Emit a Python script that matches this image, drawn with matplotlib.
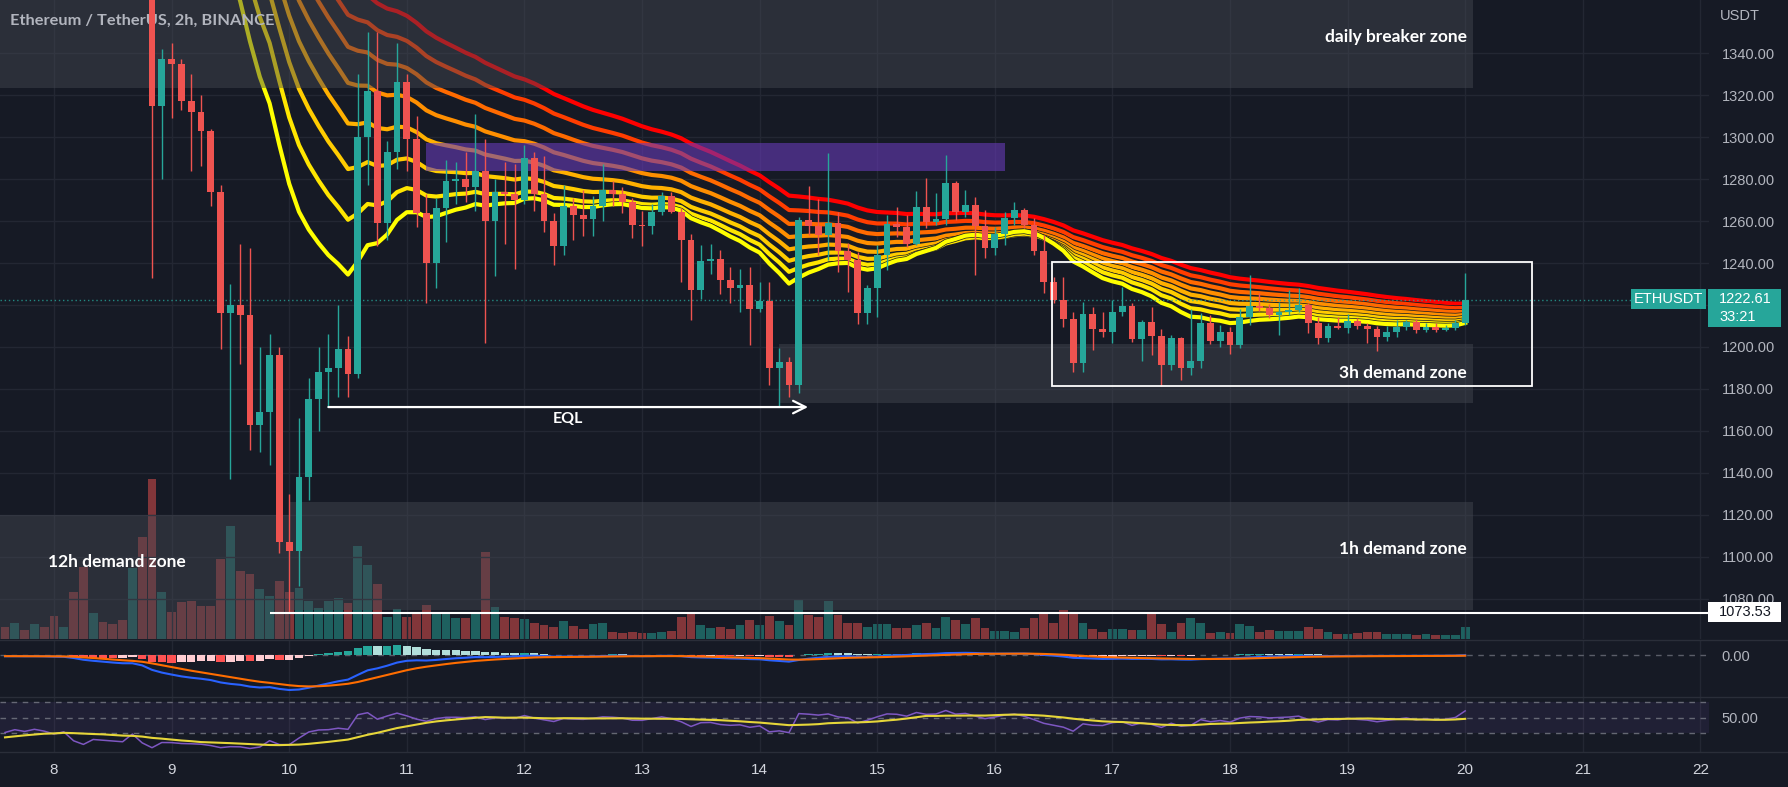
import numpy as np
import pandas as pd
import matplotlib
matplotlib.use("Agg")
import matplotlib.pyplot as plt
import matplotlib.patheffects as pe
from matplotlib.patches import Rectangle
from matplotlib.lines import Line2D

# ETH/USDT 2h candles, 7.583 -> 20.0 (x = day of month, bar open time)
warmup_close = [1590, 1584, 1589, 1582, 1587, 1580, 1585, 1578, 1583, 1576,
                1581, 1575, 1580, 1574, 1579, 1573, 1578, 1574, 1578]  # 6.0 .. 7.5, off screen
first_open = 1578

close = [1572, 1576, 1571, 1574, 1569, 1560, 1563, 1523, 1492, 1502, 1496, 1490, 1484, 1500, 1420,
         1315, 1337,
         1335, 1317, 1312, 1303, 1274, 1216, 1220, 1215, 1163, 1169, 1196, 1107,
         1103, 1138, 1175, 1188, 1190, 1199, 1187, 1300, 1322, 1259, 1293, 1326,
         1299, 1264, 1240, 1266, 1279, 1280, 1276, 1284, 1260, 1274, 1273, 1270,
         1290, 1273, 1260, 1248, 1267, 1263, 1261, 1267, 1275, 1273, 1269, 1258,
         1257.5, 1264.5, 1272, 1264.5, 1251, 1227, 1241, 1242, 1232, 1228, 1229.5, 1218,
         1222, 1190, 1193, 1182, 1260.5, 1257.6, 1253.3, 1259.2, 1245.9, 1241.5, 1216.4, 1227.9,
         1243.8, 1258.6, 1257, 1249.1, 1266.8, 1259.5, 1261, 1277.9, 1264.4, 1267.6, 1257.6, 1247.3,
         1253.6, 1261.3, 1265.2, 1258, 1245.9, 1231.1, 1222.6, 1213.5, 1192.2, 1215.6, 1208.6, 1207.3,
         1216.5, 1219.5, 1204, 1211.9, 1205, 1191.4, 1204.1, 1190.2, 1193.2, 1211.6, 1203, 1207.1,
         1200.9, 1214.1, 1219.5, 1218.4, 1215.2, 1216.5, 1217.6, 1220.2, 1211.3, 1204.1, 1210, 1209.2,
         1212.5, 1210.2, 1208.6, 1204.9, 1207.3, 1209.4, 1211.7, 1208.1, 1209.7, 1208.1, 1208.9, 1211.6,
         1222.61]

high = [1582, 1580, 1579, 1578, 1577, 1572, 1568, 1565, 1527, 1507, 1505, 1500, 1494, 1517, 1506,
        1425, 1342,
        1345, 1337, 1330, 1320, 1304, 1277, 1230, 1249, 1247, 1200, 1206, 1200,
        1130, 1166, 1185, 1200, 1206, 1220, 1205, 1330, 1350, 1350, 1298, 1345,
        1330, 1310, 1273, 1271, 1289, 1288, 1293, 1311, 1299, 1280, 1288, 1287,
        1296, 1293, 1291, 1264, 1277, 1271, 1275, 1272, 1287, 1279, 1276, 1271,
        1265, 1268, 1274, 1274, 1266, 1254, 1248.5, 1249, 1246, 1238, 1237, 1238,
        1231, 1231, 1199.5, 1195, 1262, 1276.6, 1270.3, 1292.2, 1264.4, 1249.4, 1245.4, 1229.5,
        1248.6, 1262.9, 1266.8, 1262.9, 1274.4, 1280.3, 1273.2, 1291.4, 1279, 1274.8, 1271.6, 1265.2,
        1257.3, 1264.4, 1269.2, 1266, 1261.3, 1253.3, 1233.5, 1233.5, 1216.8, 1221.6, 1219.2, 1216.8,
        1222.4, 1228.7, 1220.8, 1212.9, 1218.9, 1208.4, 1205.7, 1204.9, 1217.9, 1216.4, 1215.2, 1210.5,
        1209.7, 1217.9, 1234.3, 1225.6, 1220.5, 1221.6, 1227.1, 1227.9, 1220.8, 1214.4, 1211.6, 1214.4,
        1215.7, 1213.6, 1211.3, 1210, 1210, 1212.9, 1212.9, 1213.2, 1211.6, 1211.6, 1210.5, 1212.9,
        1235.4]

low = [1568, 1569, 1567, 1568, 1565, 1556, 1555, 1515, 1480, 1487, 1490, 1484, 1477, 1480, 1405,
       1233, 1280,
       1309, 1313, 1284, 1286, 1267, 1199, 1137, 1192, 1151, 1150, 1144, 1102,
       1073.53, 1086, 1127, 1160, 1171.4, 1176, 1176, 1185, 1277, 1248, 1251, 1285,
       1284, 1257, 1221, 1228, 1250, 1268, 1269, 1265, 1202, 1234, 1249, 1237,
       1268, 1265, 1255, 1239, 1244, 1251, 1253, 1253, 1260, 1267, 1264, 1252,
       1248, 1254, 1263, 1264, 1231, 1213, 1223, 1235, 1225, 1221, 1216.5, 1201,
       1216.5, 1182, 1171.5, 1176, 1178, 1253.3, 1243.8, 1241.4, 1235.9, 1226.3, 1211, 1211,
       1214.1, 1236.7, 1252.5, 1247.8, 1248.6, 1256.5, 1258.1, 1258.1, 1260.5, 1262.1, 1234.3, 1242.2,
       1243.8, 1248.6, 1258.1, 1256.5, 1243.8, 1225.6, 1220.8, 1209.7, 1188.2, 1188.2, 1198.6, 1204.9,
       1201.7, 1214.8, 1202.5, 1193.5, 1196.2, 1181.4, 1189, 1184.3, 1186.7, 1189.8, 1201.4, 1199.8,
       1196.7, 1199.3, 1210.5, 1217.3, 1213.6, 1205.7, 1215.2, 1216.8, 1206.8, 1201.4, 1202.5, 1208.4,
       1206.5, 1208.4, 1201.7, 1198.1, 1203, 1204.9, 1208.1, 1206.8, 1207.3, 1207.3, 1207.8, 1208.1,
       1210.5]

volume = [12, 15.7, 9, 15, 11.7, 23, 12, 47, 72, 25.7, 17, 15, 19, 70.7, 102,
          160, 47,
          27, 37, 38, 33, 33, 80, 113, 68, 65, 50, 43, 58,
          47, 51, 38, 31, 38, 40.7, 35.7, 93, 74, 55, 22, 30,
          22, 27, 34, 25.7, 27, 20.7, 20.7, 25.7, 86.7, 31.7, 22, 20.7,
          20, 16, 14, 12, 18, 13, 10, 15, 16, 7, 6, 7,
          6, 6, 7, 8, 22, 25, 14, 11, 12, 10, 14, 19,
          14, 23, 18, 14, 39, 24, 22, 38, 24, 15.7, 15.7, 11.7,
          15, 15, 10.7, 10.7, 14, 16.3, 10.7, 22.3, 19, 15, 20.7, 10.7,
          8.3, 8.3, 7.3, 10.7, 20.7, 26.3, 15.7, 29, 27.3, 16.3, 9.7, 7.3,
          9.7, 9.7, 9, 9, 25, 15, 7.3, 15.7, 20.7, 15.7, 5.7, 7.3,
          5.7, 15, 13, 7.3, 9, 8.3, 8.3, 8.3, 11.7, 9.7, 6.7, 5,
          5, 5.7, 7.3, 6.7, 5, 5, 5, 4, 5, 4, 4, 4,
          12.3]

ribbon_periods = [55, 50, 45, 40, 35, 30, 25, 20]
ribbon_colors = ["#ff0000", "#ff3d00", "#ff6a00", "#ff8f00", "#ffb000", "#ffcc00", "#ffe600", "#ffff00"]

# drawn zones: (t_left, t_right, price_bottom, price_top)
breaker_zone = (6.5, 20.07, 1323.4, 1420)
purple_zone = (11.163, 16.087, 1283.8, 1297.1)
zone_3h = (14.164, 20.07, 1173.5, 1201.4)
zone_1h = (10.007, 20.07, 1074.8, 1126.2)
zone_12h = (6.5, 10.007, 1040, 1120.2)
range_box = (16.489, 20.57, 1181.6, 1240.6)
eql_level, eql_from, eql_to = 1171.4, 10.333, 14.412
low_level, low_from = 1073.53, 9.837
last_price = 1222.61

BG = "#161a25"
GRID = "#232733"
TXT = "#b2b5be"
UP = "#26a69a"
DOWN = "#ef5350"
ZONE = "#464953"

plt.rcParams["font.family"] = ["Liberation Sans", "DejaVu Sans"]

W, H = 1788, 787


def frame(x0, y0, x1, y1):
    return [x0 / W, 1 - y1 / H, (x1 - x0) / W, (y1 - y0) / H]


n_warm = len(warmup_close)
all_close = pd.Series(warmup_close + close, dtype=float)
t_all = 6.0 + np.arange(len(all_close)) / 12
t = t_all[n_warm:]
close_a = np.array(close)
open_a = np.array([first_open] + close[:-1])
high_a = np.array(high)
low_a = np.array(low)
up = close_a >= open_a

# indicators
ema = {p: all_close.ewm(span=p, adjust=False).mean().values[n_warm:] for p in ribbon_periods}
macd_full = all_close.ewm(span=12, adjust=False).mean() - all_close.ewm(span=26, adjust=False).mean()
signal_full = macd_full.ewm(span=9, adjust=False).mean()
hist_full = (macd_full - signal_full).values
macd = macd_full.values[n_warm:]
signal = signal_full.values[n_warm:]
hist = hist_full[n_warm:]
hist_prev = hist_full[n_warm - 1:-1]
diff = all_close.diff()
gain = diff.clip(lower=0).ewm(alpha=1 / 14, adjust=False).mean()
loss = (-diff.clip(upper=0)).ewm(alpha=1 / 14, adjust=False).mean()
rsi_full = 100 - 100 / (1 + gain / loss)
rsi = rsi_full.values[n_warm:]
rsi_ma = rsi_full.rolling(14, min_periods=1).mean().values[n_warm:]

t_left = 8 - 54 / 117.6
t_right = 8 + (1709 - 54) / 117.6

fig = plt.figure(figsize=(W / 100, H / 100), dpi=100, facecolor=BG)
ax = fig.add_axes(frame(0, 0, 1709, 639))
axv = ax.twinx()
ax.set_zorder(axv.get_zorder() + 1)
ax.patch.set_visible(False)
axv.set_facecolor(BG)
ax_m = fig.add_axes(frame(0, 640, 1709, 697), sharex=ax, facecolor=BG)
ax_r = fig.add_axes(frame(0, 697, 1709, 752), sharex=ax, facecolor=BG)

for a in (ax, axv, ax_m, ax_r):
    for s in a.spines.values():
        s.set_visible(False)
    a.tick_params(length=0, colors=TXT, labelsize=10.5)

days = np.arange(8, 23)
price_ticks = np.arange(1080, 1341, 20)
ax.set_xlim(t_left, t_right)
ax.set_ylim(1060.95, 1365.24)
ax.yaxis.tick_right()
ax.set_yticks(price_ticks)
# the 1220 label sits under the last-price tag
ax.set_yticklabels(["" if v == 1220 else f"{v:.2f}" for v in price_ticks])
ax.tick_params(axis="y", pad=9)
ax.set_xticks(days)
ax.tick_params(axis="x", labelbottom=False)
ax.grid(True, color=GRID, lw=1)
ax.set_axisbelow(True)
axv.set_yticks([])
axv.set_ylim(0, 639)

# volume
vcol = [(38 / 255, 166 / 255, 154 / 255, 0.5) if u else (239 / 255, 83 / 255, 80 / 255, 0.5) for u in up]
axv.bar(t, volume, width=0.074, color=vcol, linewidth=0)

# ribbon
for p, c in zip(ribbon_periods, ribbon_colors):
    ax.plot(t, ema[p], color=c, lw=3.0, zorder=2, solid_joinstyle="round",
            path_effects=[pe.Stroke(linewidth=4.0, foreground=BG), pe.Normal()])

# zones
for z in (breaker_zone, zone_3h, zone_1h, zone_12h):
    ax.add_patch(Rectangle((z[0], z[2]), z[1] - z[0], z[3] - z[2], color=ZONE, alpha=0.45, lw=0, zorder=3))
ax.add_patch(Rectangle((purple_zone[0], purple_zone[2]), purple_zone[1] - purple_zone[0],
                       purple_zone[3] - purple_zone[2], color="#673ab7", alpha=0.6, lw=0, zorder=3))

ax.axhline(last_price, color=UP, lw=1, ls=(0, (1, 2)), alpha=0.8, zorder=3.5)

# candles
ccol = np.where(up, UP, DOWN)
ax.vlines(t, low_a, high_a, colors=ccol, lw=1, zorder=4)
body_lo = np.minimum(open_a, close_a)
body_h = np.maximum(np.abs(close_a - open_a), 0.7)
ax.bar(t, body_h, bottom=body_lo, width=0.057, color=ccol, linewidth=0, zorder=4.5)

# drawings
rb = range_box
ax.add_patch(Rectangle((rb[0], rb[2]), rb[1] - rb[0], rb[3] - rb[2], fill=False, ec="white", lw=1.3, zorder=5))
ax.annotate("", xy=(eql_to, eql_level), xytext=(eql_from, eql_level), zorder=5,
            arrowprops=dict(arrowstyle="->,head_length=0.9,head_width=0.45", color="white", lw=1.6,
                            shrinkA=0, shrinkB=0))
ax.text(12.368, 1165.7, "EQL", color="white", fontsize=11.5, ha="center", va="center", zorder=6,
        family=["Lato", "DejaVu Sans"], fontweight="bold")
ax.hlines(low_level, low_from, t_right, color="white", lw=1.5, zorder=5)

lab = dict(color="white", fontsize=12.5, va="center", zorder=6, family=["Lato", "DejaVu Sans"], fontweight="bold")
ax.text(20.015, 1347.8, "daily breaker zone", ha="right", **lab)
ax.text(20.015, 1187.5, "3h demand zone", ha="right", **lab)
ax.text(20.015, 1103.7, "1h demand zone", ha="right", **lab)
ax.text(7.953, 1097.8, "12h demand zone", ha="left", **lab)

ax.text(10 / 1709, 1 - 20.7 / 639, "Ethereum / TetherUS, 2h, BINANCE", transform=ax.transAxes,
        color=TXT, fontsize=11.8, va="center", ha="left", family=["Lato", "DejaVu Sans"], fontweight="bold")
ax.text(1720 / 1709, 1 - 16.5 / 639, "USDT", transform=ax.transAxes, color=TXT, fontsize=10.5,
        va="center", ha="left", clip_on=False)

# right-scale labels
ytr = ax.get_yaxis_transform()
ax.add_patch(Rectangle((1631 / 1709, 1218.1), 75 / 1709, 1227.6 - 1218.1, transform=ytr, color=UP,
                       clip_on=False, zorder=7, lw=0))
ax.text(1668.5 / 1709, 1222.85, "ETHUSDT", transform=ytr, color="white", fontsize=10.5, ha="center",
        va="center", clip_on=False, zorder=8)
ax.add_patch(Rectangle((1708 / 1709, 1209.5), 73 / 1709, 1227.6 - 1209.5, transform=ytr, color=UP,
                       clip_on=False, zorder=7, lw=0))
ax.text(1719 / 1709, 1222.9, f"{last_price:.2f}", transform=ytr, color="white", fontsize=10.5,
        ha="left", va="center", clip_on=False, zorder=8)
ax.text(1719 / 1709, 1214.2, "33:21", transform=ytr, color="white", fontsize=10.5,
        ha="left", va="center", clip_on=False, zorder=8)
ax.add_patch(Rectangle((1708 / 1709, 1069.05), 73 / 1709, 1078.6 - 1069.05, transform=ytr, color="white",
                       clip_on=False, zorder=7, lw=0))
ax.text(1719 / 1709, 1073.8, f"{low_level:.2f}", transform=ytr, color="#131722", fontsize=10.5,
        ha="left", va="center", clip_on=False, zorder=8)

# MACD pane
hcol = []
for h, hp in zip(hist, hist_prev):
    if h >= 0:
        hcol.append("#26a69a" if h > hp else "#b2dfdb")
    else:
        hcol.append("#ffcdd2" if h > hp else "#ff5252")
ax_m.bar(t, hist, width=0.07, color=hcol, linewidth=0, zorder=2)
ax_m.plot(t, macd, color="#2962ff", lw=1.5, zorder=3)
ax_m.plot(t, signal, color="#ff6d00", lw=1.5, zorder=3)
ax_m.axhline(0, color="#787b86", lw=1, ls=(0, (4, 4)), alpha=0.7, zorder=1)
mn = min(macd.min(), signal.min(), hist.min())
ax_m.set_ylim(1.2 * mn, -0.43 * mn)
ax_m.yaxis.tick_right()
ax_m.set_yticks([0])
ax_m.set_yticklabels(["0.00"])
ax_m.tick_params(axis="y", pad=9)
ax_m.tick_params(axis="x", labelbottom=False)
ax_m.grid(True, axis="x", color=GRID, lw=1)
ax_m.set_axisbelow(True)

# RSI pane
ax_r.axhspan(30, 70, color="#7e57c2", alpha=0.1, lw=0)
for lvl in (70, 50, 30):
    ax_r.axhline(lvl, color="#787b86", lw=1, ls=(0, (4, 4)), alpha=0.8)
ax_r.plot(t, rsi, color="#7e57c2", lw=1.1, zorder=3)
ax_r.plot(t, rsi_ma, color="#e6d63a", lw=1.5, zorder=3)
ax_r.set_ylim(5.5, 76.5)
ax_r.yaxis.tick_right()
ax_r.set_yticks([50])
ax_r.set_yticklabels(["50.00"])
ax_r.tick_params(axis="y", pad=9)
ax_r.set_xticks(days)
ax_r.set_xticklabels([str(d) for d in days], color="#d1d4dc", fontsize=11)
ax_r.tick_params(axis="x", pad=8)
ax_r.grid(True, axis="x", color=GRID, lw=1)
ax_r.set_axisbelow(True)
ax_r.set_xlim(t_left, t_right)

for yy in (639.5, 697, 752):
    fig.add_artist(Line2D([0, 1], [1 - yy / H, 1 - yy / H], color="#2a2e39", lw=1))

fig.savefig("out.png", dpi=100, facecolor=BG)
